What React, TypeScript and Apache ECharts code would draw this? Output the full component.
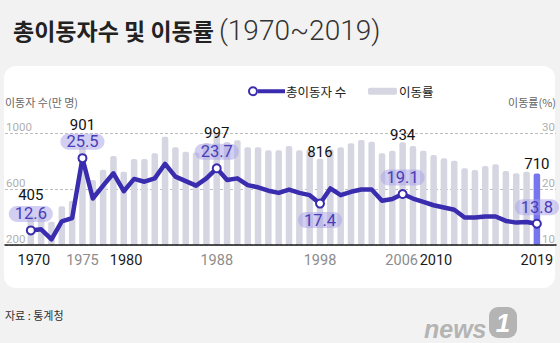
import React, { useEffect, useRef } from "react";
import * as echarts from "echarts";

// ---------- data ----------
const YEARS = [
  1970, 1971, 1972, 1973, 1974, 1975, 1976, 1977, 1978, 1979,
  1980, 1981, 1982, 1983, 1984, 1985, 1986, 1987, 1988, 1989,
  1990, 1991, 1992, 1993, 1994, 1995, 1996, 1997, 1998, 1999,
  2000, 2001, 2002, 2003, 2004, 2005, 2006, 2007, 2008, 2009,
  2010, 2011, 2012, 2013, 2014, 2015, 2016, 2017, 2018, 2019,
];
// 총이동자 수 (만 명) – bars, left axis
const MOVERS = [
  405, 420, 366, 476, 516, 901, 664, 738, 836, 724,
  815, 815, 855, 973, 898, 866, 860, 929, 997, 935,
  948, 898, 898, 877, 876, 907, 876, 884, 816, 884,
  898, 926, 950, 938, 855, 874, 934, 907, 874, 843,
  819, 802, 748, 736, 764, 776, 729, 712, 724, 710,
];
// 이동률 (%) – line, right axis
const RATE = [
  12.6, 12.8, 11.0, 14.2, 14.8, 25.5, 18.3, 20.6, 22.8, 19.6,
  21.8, 21.3, 21.9, 24.5, 22.2, 21.4, 20.6, 21.9, 23.7, 21.6,
  21.9, 20.7, 20.3, 19.7, 19.3, 19.9, 19.3, 18.9, 17.4, 20.1,
  18.9, 19.5, 19.9, 19.9, 17.9, 18.2, 19.1, 18.3, 17.7, 17.1,
  16.7, 16.3, 14.9, 14.9, 15.1, 15.1, 14.3, 14.0, 14.1, 13.8,
];
const HIGHLIGHT_YEARS = [1970, 1975, 1988, 1998, 2006, 2019];
const LAST_YEAR = 2019;
const X_LABEL_YEARS = [1970, 1975, 1980, 1988, 1998, 2006, 2010, 2019];
const X_LABEL_DARK = [1970, 1980, 2010, 2019];

// ---------- styles ----------
const LINE = "#3a2cae";
const BAR = "#d6d6e2";
const BAR_HL = "#7676ef";
const NUM = "Roboto, sans-serif";
const KR = "'Noto Sans CJK KR', 'Noto Sans', sans-serif";
const BAR_LABEL_DY: Record<number, number> = { 1970: -14, 1975: -15, 1988: 7, 1998: 0, 2006: 0, 2019: -3 };
const RATE_LABEL_POS: Record<number, string> = { 1998: "bottom" };
const X_LABEL_SHIFT: Record<number, number> = { 1970: 3, 1980: -8, 2006: -1, 2010: -8 };
const LINE_ICON =
  "path://M0,5A5,5 0 1,1 10,5A5,5 0 1,1 0,5ZM2,5A3,3 0 1,0 8,5A3,3 0 1,0 2,5ZM10,3L37,3L37,7L10,7Z";

export default function App() {
  const ref = useRef<HTMLDivElement>(null);

  useEffect(() => {
    document.body.style.margin = "0";
    document.body.style.background = "#f2f2f2";
    if (!ref.current) return;
    const chart = echarts.init(ref.current, undefined, { renderer: "svg" });

    const barData = YEARS.map((y, i) => {
      const item: any = { value: [y, MOVERS[i]] };
      if (y === LAST_YEAR) item.itemStyle = { color: BAR_HL };
      if (HIGHLIGHT_YEARS.includes(y)) {
        item.label = {
          show: true,
          position: "top",
          distance: 0,
          offset: [0, BAR_LABEL_DY[y] || 0],
          formatter: String(MOVERS[i]),
          color: "#111",
          fontSize: 15,
          lineHeight: 14,
          fontFamily: NUM,
        };
      }
      return item;
    });

    const lineData = YEARS.map((y, i) => {
      const item: any = { value: [y, RATE[i]] };
      if (HIGHLIGHT_YEARS.includes(y)) {
        item.symbolSize = 8;
        item.itemStyle = { color: "#ffffff", borderColor: LINE, borderWidth: 2 };
        item.label = {
          show: true,
          position: RATE_LABEL_POS[y] || "top",
          distance: 3.5,
          formatter: RATE[i].toFixed(1),
          color: "#4a3db8",
          fontSize: 16.5,
          lineHeight: 16,
          fontFamily: NUM,
          backgroundColor: "rgba(165,160,232,0.5)",
          borderRadius: 9,
          padding: [0, 6],
        };
      }
      return item;
    });

    const rich: any = {};
    X_LABEL_YEARS.forEach((y) => {
      const s = X_LABEL_SHIFT[y] || 0;
      rich["y" + y] = {
        color: X_LABEL_DARK.includes(y) ? "#1a1a1a" : "#8c8c8c",
        fontSize: 14.5,
        fontFamily: NUM,
        padding: s < 0 ? [0, -2 * s, 0, 0] : [0, 0, 0, 2 * s],
      };
    });

    chart.setOption({
      animation: false,
      backgroundColor: "#f2f2f2",
      title: {
        left: 8,
        top: 11,
        text: "{k|총이동자수 및 이동률}{n|(1970~2019)}",
        textStyle: {
          fontWeight: "normal",
          rich: {
            k: { fontFamily: KR, fontWeight: "bold", fontSize: 23, color: "#222" },
            n: { fontFamily: NUM, fontWeight: 300, fontSize: 28, color: "#333", padding: [0, 0, 0, 5] },
          },
        },
      },
      legend: [
        {
          data: [{ name: "총이동자 수", icon: LINE_ICON }],
          left: 243,
          top: 80,
          itemWidth: 37,
          itemHeight: 10,
          selectedMode: false,
          textStyle: { fontFamily: KR, fontSize: 12.5, color: "#222", padding: [0, 0, 0, -4] },
        },
        {
          data: [{ name: "이동률", icon: "roundRect" }],
          left: 363,
          top: 80,
          itemWidth: 29,
          itemHeight: 7,
          selectedMode: false,
          textStyle: { fontFamily: KR, fontSize: 12.5, color: "#222", padding: [0, 0, 0, -3] },
        },
      ],
      grid: { left: 5, right: 4, top: 133, bottom: 98 },
      xAxis: {
        type: "value",
        min: 1967.5,
        max: 2020.85,
        z: 5,
        axisLine: { show: true, lineStyle: { color: "#1a1a1a", width: 1.5 } },
        axisTick: { show: false },
        splitLine: { show: false },
        axisLabel: {
          customValues: X_LABEL_YEARS,
          margin: 8,
          formatter: (v: number) => `{y${v}|${v}}`,
          rich,
        },
      },
      yAxis: [
        {
          type: "value",
          position: "left",
          min: 200,
          max: 1000,
          interval: 400,
          name: "이동자 수(만 명)",
          nameLocation: "end",
          nameGap: 31,
          nameTextStyle: { align: "left", verticalAlign: "middle", color: "#666", fontSize: 11, fontFamily: KR },
          axisLine: { show: false },
          axisTick: { show: false },
          axisLabel: {
            inside: true,
            margin: 1,
            verticalAlign: "bottom",
            color: "#b0b0b0",
            fontSize: 11.5,
            fontFamily: NUM,
            formatter: (v: number) => String(v),
          },
          splitLine: { show: true, lineStyle: { type: [3, 2], color: "#bdbdbd", width: 1 } },
        },
        {
          type: "value",
          position: "right",
          min: 10,
          max: 30,
          interval: 10,
          name: "이동률(%)",
          nameLocation: "end",
          nameGap: 31,
          nameTextStyle: { align: "right", verticalAlign: "middle", color: "#666", fontSize: 11, fontFamily: KR },
          axisLine: { show: false },
          axisTick: { show: false },
          axisLabel: {
            inside: true,
            margin: 1,
            verticalAlign: "bottom",
            color: "#b0b0b0",
            fontSize: 11.5,
            fontFamily: NUM,
            formatter: (v: number) => String(v),
          },
          splitLine: { show: false },
        },
      ],
      series: [
        {
          type: "bar",
          name: "이동률",
          yAxisIndex: 0,
          data: barData,
          barWidth: 6.5,
          itemStyle: { color: BAR, borderRadius: [2, 2, 0, 0] },
          z: 2,
          silent: true,
        },
        {
          type: "line",
          name: "총이동자 수",
          yAxisIndex: 1,
          data: lineData,
          symbol: "circle",
          symbolSize: 0,
          showSymbol: true,
          lineStyle: { color: LINE, width: 4.5, join: "round" },
          itemStyle: { color: LINE },
          z: 3,
          silent: true,
        },
      ],
      graphic: [
        {
          type: "rect",
          z: -10,
          shape: { x: 4, y: 66, width: 551, height: 222, r: 12 },
          style: { fill: "#ffffff" },
          silent: true,
        },
        {
          type: "text",
          x: 5,
          y: 315,
          style: {
            text: "자료 : 통계청",
            fontFamily: KR,
            fontSize: 11,
            fill: "#333",
            verticalAlign: "middle",
          },
        },
        {
          type: "text",
          x: 424,
          y: 329,
          style: {
            text: "news",
            fontFamily: "'Liberation Sans', sans-serif",
            fontStyle: "italic",
            fontWeight: "bold",
            fontSize: 25,
            fill: "#b4b4b4",
            verticalAlign: "middle",
          },
        },
        {
          type: "rect",
          shape: { x: 489, y: 307, width: 28, height: 31, r: 9 },
          style: { fill: "#b4b4b4" },
        },
        {
          type: "text",
          x: 503,
          y: 323,
          style: {
            text: "1",
            fontFamily: "'Liberation Sans', sans-serif",
            fontStyle: "italic",
            fontWeight: "bold",
            fontSize: 26,
            fill: "#ffffff",
            align: "center",
            verticalAlign: "middle",
          },
        },
      ],
    });

    return () => chart.dispose();
  }, []);

  return <div ref={ref} style={{ width: 560, height: 343 }} />;
}
